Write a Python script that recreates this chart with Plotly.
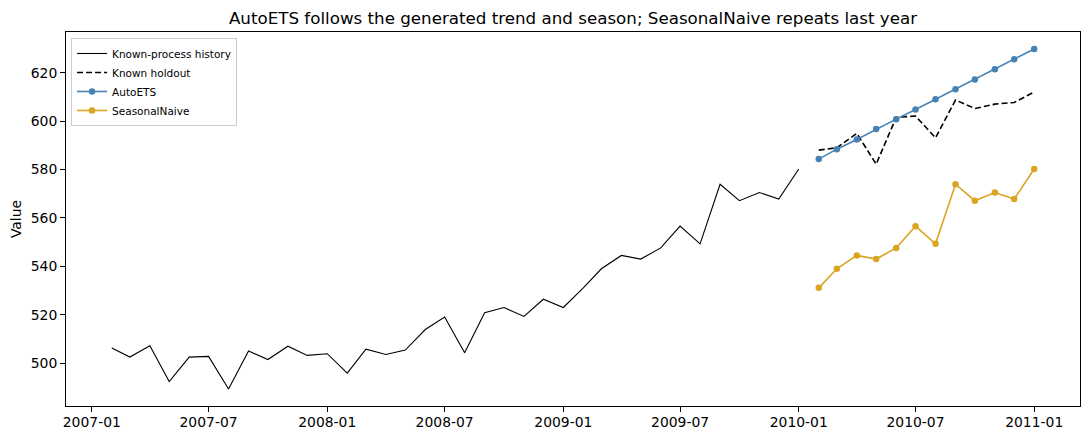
import pandas as pd
import plotly.graph_objects as go

history_dates = pd.date_range("2007-02-01", "2010-01-01", freq="MS")
history_values = [
    506.3, 502.5, 507.2, 492.4, 502.5, 502.8, 489.3, 505.0, 501.5, 507.0, 503.2, 503.9,
    495.9, 505.8, 503.6, 505.4, 513.9, 519.1, 504.3, 520.8, 523.0, 519.3, 526.4, 523.0,
    531.1, 539.0, 544.5, 543.0, 547.6, 556.6, 549.3, 573.9, 567.1, 570.5, 567.8, 580.2,
]

forecast_dates = pd.date_range("2010-02-01", "2011-01-01", freq="MS")
holdout_values = [588.0, 589.0, 594.9, 582.2, 601.5, 602.1, 593.1, 608.7, 605.2, 607.0, 607.7, 612.0]
autoets_values = [584.3, 588.4, 592.4, 596.7, 600.8, 604.8, 609.0, 613.1, 617.2, 621.4, 625.5, 629.8]
seasonalnaive_values = [531.1, 539.0, 544.5, 543.0, 547.6, 556.6, 549.3, 573.9, 567.1, 570.5, 567.8, 580.2]

FONT = "DejaVu Sans"

fig = go.Figure()
fig.add_trace(go.Scatter(x=history_dates, y=history_values, mode="lines",
                         name="Known-process history", line=dict(color="black", width=1.1)))
fig.add_trace(go.Scatter(x=forecast_dates, y=holdout_values, mode="lines",
                         name="Known holdout", line=dict(color="black", width=1.6, dash="6px,3px")))
fig.add_trace(go.Scatter(x=forecast_dates, y=autoets_values, mode="lines+markers",
                         name="AutoETS", line=dict(color="#4682B4", width=1.6),
                         marker=dict(color="#4682B4", size=6.5)))
fig.add_trace(go.Scatter(x=forecast_dates, y=seasonalnaive_values, mode="lines+markers",
                         name="SeasonalNaive", line=dict(color="#DAA520", width=1.6),
                         marker=dict(color="#DAA520", size=6.5)))

tick_dates = pd.date_range("2007-01-01", "2011-01-01", freq="6MS")

axis_common = dict(showline=True, linecolor="black", linewidth=1, mirror=True,
                   ticks="outside", ticklen=5, tickcolor="black", showgrid=False,
                   zeroline=False, automargin=False,
                   tickfont=dict(family=FONT, size=13.9, color="black"))

# page body has an 8px default margin, so the figure is sized to fit inside it
fig.update_layout(
    width=1081, height=432,
    margin=dict(l=58, r=9, t=24, b=34, autoexpand=False),
    paper_bgcolor="white", plot_bgcolor="white",
    font=dict(family=FONT, color="black"),
    title=dict(text="AutoETS follows the generated trend and season; SeasonalNaive repeats last year",
               x=0.5, xref="paper", xanchor="center", y=1 - 10 / 432, yref="container", yanchor="middle",
               font=dict(family=FONT, size=16.7, color="black")),
    xaxis=dict(range=["2006-11-22", "2011-03-13"], tickvals=tick_dates,
               ticktext=[d.strftime("%Y-%m") for d in tick_dates], ticklabelstandoff=-2,
               **axis_common),
    yaxis=dict(range=[482.3, 636.8], tickvals=[500, 520, 540, 560, 580, 600, 620],
               title=dict(text="Value", font=dict(family=FONT, size=13.9, color="black"), standoff=8),
               **axis_common),
    legend=dict(x=0.005, y=0.984, xanchor="left", yanchor="top",
                bgcolor="rgba(255,255,255,0.8)", bordercolor="#cccccc", borderwidth=1,
                font=dict(family=FONT, size=10.5, color="black"),
                tracegroupgap=0, itemwidth=30),
    showlegend=True,
)

fig.write_html("out.html")
